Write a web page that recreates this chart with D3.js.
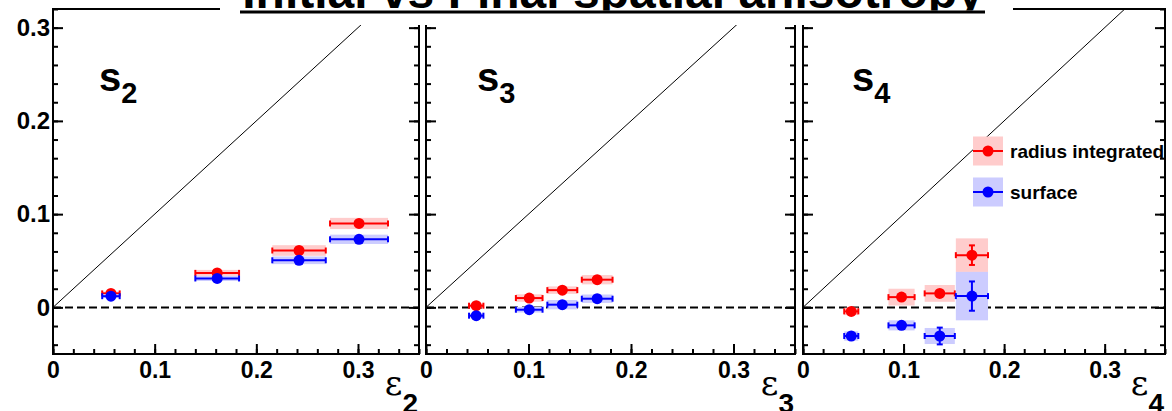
<!DOCTYPE html>
<html><head><meta charset="utf-8">
<script src="https://d3js.org/d3.v7.min.js"></script>
<style>body{margin:0;background:#fff}svg{display:block}</style>
</head><body><svg id="c" width="1172" height="411"></svg>
<script>
// ---- data ----
const panelNames = ["2", "3", "4"];
const titleText = "Initial vs Final spatial anisotropy";
const seriesNames = ["radius integrated", "surface"];
const xTickMajor = [0, 0.1, 0.2, 0.3];
const yTickMajor = [0, 0.1, 0.2, 0.3];

// panel epsilon_2
const eps2 = [0.057, 0.1615, 0.242, 0.301];
const eps2Err = [0.0086, 0.0215, 0.0263, 0.0285];
const radius2 = [0.015, 0.037, 0.061, 0.090];
const radius2Err = [0.001, 0.001, 0.001, 0.001];
const radius2Sys = [0.002, 0.0032, 0.0057, 0.0060];
const surface2 = [0.012, 0.031, 0.0505, 0.073];
const surface2Err = [0.001, 0.001, 0.001, 0.001];
const surface2Sys = [0.002, 0.0027, 0.0041, 0.0050];

// panel epsilon_3
const eps3 = [0.049, 0.1007, 0.133, 0.167];
const eps3Err = [0.007, 0.013, 0.0146, 0.015];
const radius3 = [0.0018, 0.010, 0.0185, 0.0297];
const radius3Err = [0.001, 0.001, 0.001, 0.001];
const radius3Sys = [0.002, 0.004, 0.004, 0.005];
const surface3 = [-0.0089, -0.0025, 0.0029, 0.0093];
const surface3Err = [0.001, 0.001, 0.001, 0.001];
const surface3Sys = [0.002, 0.003, 0.005, 0.0045];

// panel epsilon_4
const eps4 = [0.048, 0.098, 0.136, 0.168];
const eps4Err = [0.007, 0.013, 0.015, 0.016];
const radius4 = [-0.0043, 0.011, 0.015, 0.056];
const radius4Err = [0.001, 0.004, 0.005, 0.0105];
const radius4Sys = [0.004, 0.009, 0.009, 0.018];
const surface4 = [-0.0307, -0.0193, -0.0307, 0.0121];
const surface4Err = [0.001, 0.005, 0.009, 0.0157];
const surface4Sys = [0.005, 0.0054, 0.0086, 0.026];

// ---- layout ----
const svg = d3.select("#c");
const FONT = "'Liberation Sans', Arial, Helvetica, sans-serif";
const frames = [{x0: 53, x1: 419}, {x0: 426, x1: 795}, {x0: 803, x1: 1165}];
const yTop = 9, yBot = 354;
const xDomain = [0, 0.36], yDomain = [-0.05, 0.32];
const colors = [{line: "#ff0000", fill: "#ffcccc"}, {line: "#0000ff", fill: "#ccccff"}];
const labelOffsets = [46, 51, 49];

const panelData = [
  {x: eps2, xe: eps2Err, s: [[radius2, radius2Err, radius2Sys], [surface2, surface2Err, surface2Sys]]},
  {x: eps3, xe: eps3Err, s: [[radius3, radius3Err, radius3Sys], [surface3, surface3Err, surface3Sys]]},
  {x: eps4, xe: eps4Err, s: [[radius4, radius4Err, radius4Sys], [surface4, surface4Err, surface4Sys]]}
];

const y = d3.scaleLinear().domain(yDomain).range([yBot, yTop]);
const fmt = d => d === 0 ? "0" : d.toFixed(1);
const xMinor = d3.range(0, 0.3601, 0.02);
const yMinor = d3.range(-0.04, 0.3201, 0.02);

panelData.forEach((pd, pi) => {
  const f = frames[pi];
  const x = d3.scaleLinear().domain(xDomain).range([f.x0, f.x1]);
  const g = svg.append("g");
  const clipId = "clip" + pi;
  svg.append("clipPath").attr("id", clipId).append("rect")
    .attr("x", f.x0).attr("y", yTop).attr("width", f.x1 - f.x0).attr("height", yBot - yTop);

  // diagonal y = x
  g.append("line").attr("clip-path", `url(#${clipId})`)
    .attr("x1", x(0)).attr("y1", y(0)).attr("x2", x(0.4)).attr("y2", y(0.4))
    .attr("stroke", "#000").attr("stroke-width", 1);
  // dashed zero line
  g.append("line").attr("x1", f.x0).attr("x2", f.x1).attr("y1", y(0)).attr("y2", y(0))
    .attr("stroke", "#000").attr("stroke-width", 2).attr("stroke-dasharray", "8,4");

  // axes
  const axB = g.append("g").attr("transform", `translate(0,${yBot})`)
    .call(d3.axisBottom(x).tickValues(xTickMajor).tickSize(-10).tickPadding(8).tickFormat(fmt));
  axB.selectAll("text").attr("font-family", FONT).attr("font-weight", "bold").attr("font-size", 23).attr("fill", "#000");
  g.append("g").attr("transform", `translate(0,${yBot})`)
    .call(d3.axisBottom(x).tickValues(xMinor).tickSize(-5).tickFormat(""));
  const axL = g.append("g").attr("transform", `translate(${f.x0},0)`)
    .call(d3.axisLeft(y).tickValues(yTickMajor).tickSize(-10).tickPadding(3).tickFormat(pi === 0 ? fmt : ""));
  axL.selectAll("text").attr("font-family", FONT).attr("font-weight", "bold").attr("font-size", 24).attr("fill", "#000");
  g.append("g").attr("transform", `translate(${f.x0},0)`)
    .call(d3.axisLeft(y).tickValues(yMinor).tickSize(-5).tickFormat(""));
  g.append("g").attr("transform", `translate(${f.x1},0)`)
    .call(d3.axisRight(y).tickValues(yTickMajor).tickSize(-10).tickFormat(""));
  g.append("g").attr("transform", `translate(${f.x1},0)`)
    .call(d3.axisRight(y).tickValues(yMinor).tickSize(-5).tickFormat(""));
  g.selectAll(".domain").remove();
  g.selectAll(".tick line").attr("stroke", "#000").attr("stroke-width", 2);

  // frame
  g.append("rect").attr("x", f.x0).attr("y", yTop).attr("width", f.x1 - f.x0).attr("height", yBot - yTop)
    .attr("fill", "none").attr("stroke", "#000").attr("stroke-width", 2);

  // data
  pd.s.forEach((ser, si) => {
    const [vals, errs, sys] = ser;
    const c = colors[si];
    const pts = vals.map((v, i) => ({x: pd.x[i], xe: pd.xe[i], y: v, ye: errs[i], sy: sys[i]}));
    const sg = g.append("g");
    sg.selectAll("rect.sys").data(pts).join("rect").attr("class", "sys")
      .attr("x", d => x(d.x - d.xe)).attr("width", d => x(d.x + d.xe) - x(d.x - d.xe))
      .attr("y", d => y(d.y + d.sy)).attr("height", d => y(d.y - d.sy) - y(d.y + d.sy))
      .attr("fill", c.fill);
    sg.selectAll("line.hx").data(pts).join("line").attr("class", "hx")
      .attr("x1", d => x(d.x - d.xe)).attr("x2", d => x(d.x + d.xe))
      .attr("y1", d => y(d.y)).attr("y2", d => y(d.y)).attr("stroke", c.line).attr("stroke-width", 2);
    [-1, 1].forEach(sgn => {
      sg.selectAll("line.cx" + (sgn + 1)).data(pts).join("line").attr("class", "cx" + (sgn + 1))
        .attr("x1", d => x(d.x + sgn * d.xe)).attr("x2", d => x(d.x + sgn * d.xe))
        .attr("y1", d => y(d.y) - 3).attr("y2", d => y(d.y) + 3).attr("stroke", c.line).attr("stroke-width", 2);
    });
    const vp = pts.filter(d => y(d.y - d.ye) - y(d.y + d.ye) > 10);
    sg.selectAll("line.vy").data(vp).join("line").attr("class", "vy")
      .attr("x1", d => x(d.x)).attr("x2", d => x(d.x))
      .attr("y1", d => y(d.y - d.ye)).attr("y2", d => y(d.y + d.ye)).attr("stroke", c.line).attr("stroke-width", 2);
    [-1, 1].forEach(sgn => {
      sg.selectAll("line.cy" + (sgn + 1)).data(vp).join("line").attr("class", "cy" + (sgn + 1))
        .attr("x1", d => x(d.x) - 3).attr("x2", d => x(d.x) + 3)
        .attr("y1", d => y(d.y + sgn * d.ye)).attr("y2", d => y(d.y + sgn * d.ye)).attr("stroke", c.line).attr("stroke-width", 2);
    });
    sg.selectAll("circle").data(pts).join("circle")
      .attr("cx", d => x(d.x)).attr("cy", d => y(d.y)).attr("r", 5.5).attr("fill", c.line);
  });

  // panel label s_n
  const lab = g.append("text").attr("x", f.x0 + labelOffsets[pi]).attr("y", 91)
    .attr("font-family", FONT).attr("font-weight", "bold").attr("fill", "#000");
  lab.append("tspan").attr("font-size", 40).text("s");
  lab.append("tspan").attr("font-size", 29).attr("dy", 12).text(panelNames[pi]);

  // axis title epsilon_n
  const at = g.append("text").attr("x", f.x1 - 1).attr("y", 395).attr("text-anchor", "end")
    .attr("font-family", FONT).attr("fill", "#000");
  at.append("tspan").attr("font-size", 34).attr("font-family", "'DejaVu Serif', serif").text("ε");
  at.append("tspan").attr("font-size", 28).attr("font-weight", "bold").attr("dy", 18).text(panelNames[pi]);
});

// legend
const legY = [151, 192];
seriesNames.forEach((name, i) => {
  const c = colors[i];
  const lg = svg.append("g");
  lg.append("rect").attr("x", 973).attr("y", legY[i] - 14.5).attr("width", 30).attr("height", 29).attr("fill", c.fill);
  lg.append("line").attr("x1", 973).attr("x2", 1003).attr("y1", legY[i]).attr("y2", legY[i]).attr("stroke", c.line).attr("stroke-width", 2);
  lg.append("circle").attr("cx", 988).attr("cy", legY[i]).attr("r", 5.5).attr("fill", c.line);
  lg.append("text").attr("x", 1010).attr("y", legY[i] + 7).attr("font-family", FONT).attr("font-weight", "bold")
    .attr("font-size", 19).attr("fill", "#000").text(name);
});

// title box
svg.append("clipPath").attr("id", "tclip").append("rect").attr("x", 0).attr("y", 0).attr("width", 1172).attr("height", 10.5);
svg.append("rect").attr("x", 220).attr("y", 0).attr("width", 793).attr("height", 25).attr("fill", "#fff");
svg.append("text").attr("clip-path", "url(#tclip)").attr("x", 613).attr("y", 8).attr("text-anchor", "middle")
  .attr("font-family", FONT).attr("font-weight", "bold").attr("font-size", 48).attr("fill", "#000").text(titleText);
svg.append("rect").attr("x", 240).attr("y", 10.5).attr("width", 745).attr("height", 3).attr("fill", "#000");
</script></body></html>
